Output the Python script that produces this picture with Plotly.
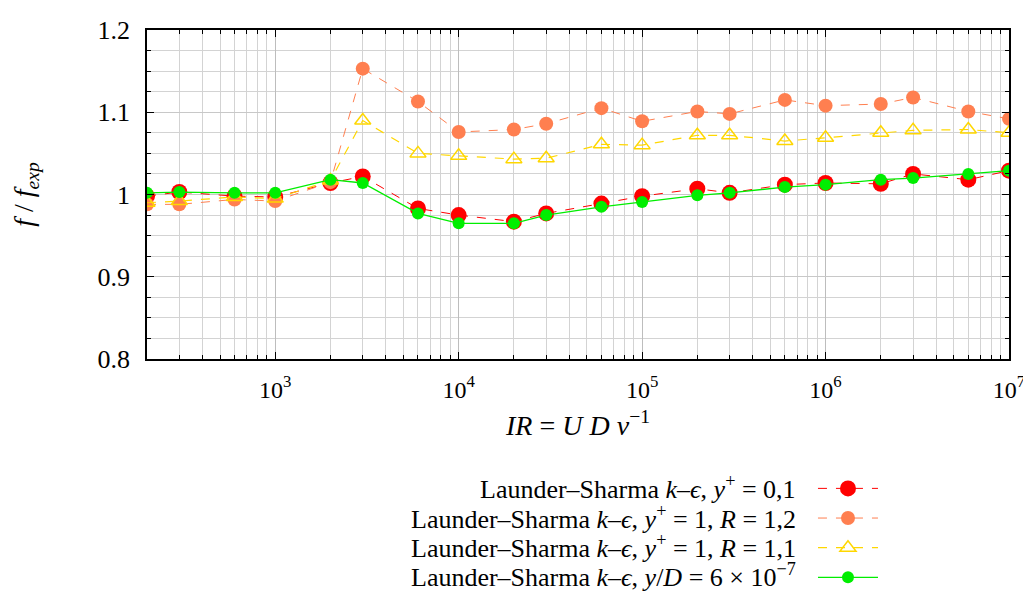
import plotly.graph_objects as go

Re = [200, 300, 600, 1e3, 2e3, 3e3, 6e3, 1e4, 2e4, 3e4, 6e4, 1e5, 2e5, 3e5, 6e5, 1e6, 2e6, 3e6, 6e6, 1e7]
f_yp01 = [0.998, 1.003, 0.998, 0.997, 1.014, 1.022, 0.983, 0.975, 0.967, 0.977, 0.989, 0.998,
          1.007, 1.002, 1.012, 1.014, 1.013, 1.025, 1.018, 1.029]
f_R12 = [0.988, 0.988, 0.994, 0.992, 1.015, 1.153, 1.113, 1.076, 1.079, 1.086, 1.105, 1.089,
         1.101, 1.098, 1.115, 1.108, 1.110, 1.118, 1.101, 1.092]
f_R11 = [0.990, 0.992, 0.997, 0.995, 1.017, 1.090, 1.050, 1.047, 1.043, 1.044, 1.061, 1.060,
         1.072, 1.072, 1.065, 1.069, 1.075, 1.078, 1.079, 1.075]
f_yD = [1.002, 1.003, 1.002, 1.002, 1.018, 1.014, 0.977, 0.965, 0.965, 0.975, 0.985, 0.991,
        0.999, 1.002, 1.009, 1.012, 1.018, 1.020, 1.025, 1.029]

labels = [
    "Launder–Sharma <i>k</i>–<i>ϵ</i>, <i>y</i><sup>+</sup> = 0,1",
    "Launder–Sharma <i>k</i>–<i>ϵ</i>, <i>y</i><sup>+</sup> = 1, <i>R</i> = 1,2",
    "Launder–Sharma <i>k</i>–<i>ϵ</i>, <i>y</i><sup>+</sup> = 1, <i>R</i> = 1,1",
    "Launder–Sharma <i>k</i>–<i>ϵ</i>, <i>y</i>/<i>D</i> = 6 × 10<sup>−7</sup>",
]
xtick_vals = [1e3, 1e4, 1e5, 1e6, 1e7]
xtick_text = ["10<sup>3</sup>", "10<sup>4</sup>", "10<sup>5</sup>", "10<sup>6</sup>", "10<sup>7</sup>"]
ytick_vals = [0.8, 0.9, 1.0, 1.1, 1.2]
ytick_text = ["0.8", "0.9", "1", "1.1", "1.2"]

FONT = "Liberation Serif"
fig = go.Figure()
fig.add_trace(go.Scatter(x=Re, y=f_yp01, mode="lines+markers", name=" ",
                         line=dict(color="#ff0000", width=1, dash="dash"),
                         marker=dict(symbol="circle", size=16, color="#ff0000")))
fig.add_trace(go.Scatter(x=Re, y=f_R12, mode="lines+markers", name=" ",
                         line=dict(color="#ff7f50", width=1, dash="dash"),
                         marker=dict(symbol="circle", size=14, color="#ff7f50")))
fig.add_trace(go.Scatter(x=Re, y=f_R11, mode="lines+markers", name=" ",
                         line=dict(color="#ffd700", width=1.2, dash="dash"),
                         marker=dict(symbol="triangle-up-open", size=14, color="#ffd700",
                                     line=dict(width=1.5, color="#ffd700"))))
fig.add_trace(go.Scatter(x=Re, y=f_yD, mode="lines+markers", name=" ",
                         line=dict(color="#00ee00", width=1.3),
                         marker=dict(symbol="circle", size=12, color="#00ee00")))

row_y = [-0.39, -0.481, -0.57, -0.657]
for lab, yy in zip(labels, row_y):
    fig.add_annotation(text=lab, xref="paper", yref="paper", x=0.755, y=yy,
                       xanchor="right", yanchor="middle", showarrow=False,
                       font=dict(family=FONT, size=26, color="black"))

fig.update_xaxes(type="log", range=[2.30103, 7],
                 tickvals=xtick_vals, ticktext=xtick_text,
                 ticks="inside", ticklen=7, tickcolor="black", ticklabelstandoff=8,
                 showline=True, linecolor="black", linewidth=1.5, mirror="ticks",
                 showgrid=True, gridcolor="#bdbdbd", gridwidth=1.2,
                 minor=dict(dtick="D1", ticks="inside", ticklen=4, tickcolor="black",
                            showgrid=True, gridcolor="#d3d3d3", gridwidth=1),
                 tickfont=dict(family=FONT, size=24, color="black"),
                 title=dict(text="<i>IR</i> = <i>U D</i> <i>ν</i><sup>−1</sup>",
                            font=dict(family=FONT, size=28, color="black"), standoff=14),
                 zeroline=False)
fig.update_yaxes(range=[0.8, 1.2], tickvals=ytick_vals, ticktext=ytick_text,
                 ticks="inside", ticklen=7, tickcolor="black", ticklabelstandoff=10,
                 showline=True, linecolor="black", linewidth=1.5, mirror="ticks",
                 showgrid=True, gridcolor="#c8c8c8", gridwidth=1.2,
                 minor=dict(dtick=0.025, ticks="inside", ticklen=4, tickcolor="black",
                            showgrid=True, gridcolor="#d3d3d3", gridwidth=1),
                 tickfont=dict(family=FONT, size=26, color="black"),
                 title=dict(text="<i>f</i> / <i>f</i><sub><i>exp</i></sub>",
                            font=dict(family=FONT, size=28, color="black"), standoff=56),
                 zeroline=False)

fig.update_layout(width=1023, height=585,
                  margin=dict(l=139, r=22, t=22, b=234, autoexpand=False),
                  paper_bgcolor="white", plot_bgcolor="white",
                  showlegend=True,
                  legend=dict(x=0.7726, y=-0.333, xanchor="left", yanchor="top",
                              font=dict(family=FONT, size=20.5), bgcolor="rgba(0,0,0,0)",
                              itemwidth=60, tracegroupgap=0),
                  font=dict(family=FONT))
fig.write_html("out.html")
